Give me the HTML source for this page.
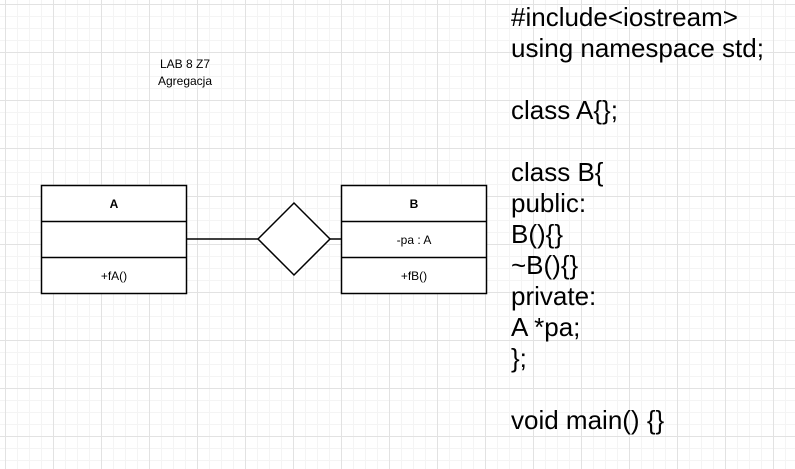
<!DOCTYPE html>
<html><head><style>
body{margin:0;width:795px;height:469px;overflow:hidden;background:#fff;
background-image:
linear-gradient(90deg,#e2e2e2 1px,transparent 1px),
linear-gradient(0deg,#e2e2e2 1px,transparent 1px),
linear-gradient(90deg,#f4f4f4 1px,transparent 1px),
linear-gradient(0deg,#f4f4f4 1px,transparent 1px);
background-size:48px 48px,48px 48px,12px 12px,12px 12px;
background-position:5px 0,0 5px,5px 0,0 5px;
font-family:"Liberation Sans",sans-serif;position:relative}
.t{position:absolute;font-size:12px;text-align:center}
pre{position:absolute;left:511px;top:2px;margin:0;font-family:"Liberation Sans",sans-serif;font-size:26px;line-height:31px}
</style></head><body>
<div class="t" style="left:135px;top:56px;width:100px;line-height:17px">LAB 8 Z7<br>Agregacja</div>
<svg width="795" height="469" style="position:absolute;left:0;top:0" font-family="Liberation Sans" font-size="12" text-anchor="middle">
<g fill="#fff" stroke="#000" stroke-width="1.5">
<rect x="41.5" y="185.5" width="145" height="108"/>
<line x1="41" y1="221.5" x2="186" y2="221.5"/><line x1="41" y1="257.5" x2="186" y2="257.5"/>
<rect x="341.5" y="185.5" width="145" height="108"/>
<line x1="341" y1="221.5" x2="486" y2="221.5"/><line x1="341" y1="257.5" x2="486" y2="257.5"/>
<line x1="186" y1="239" x2="258" y2="239"/><line x1="330" y1="239" x2="341" y2="239"/>
<polygon points="258,239 294,203 330,239 294,275"/>
</g>
<text x="114" y="208" font-weight="bold">A</text>
<text x="114" y="280">+fA()</text>
<text x="414" y="208" font-weight="bold">B</text>
<text x="414" y="244">-pa : A</text>
<text x="414" y="280">+fB()</text>
</svg>
<pre>#include&lt;iostream&gt;
using namespace std;

class A{};

class B{
public:
B(){}
~B(){}
private:
A *pa;
};

void main() {}</pre>
</body></html>
